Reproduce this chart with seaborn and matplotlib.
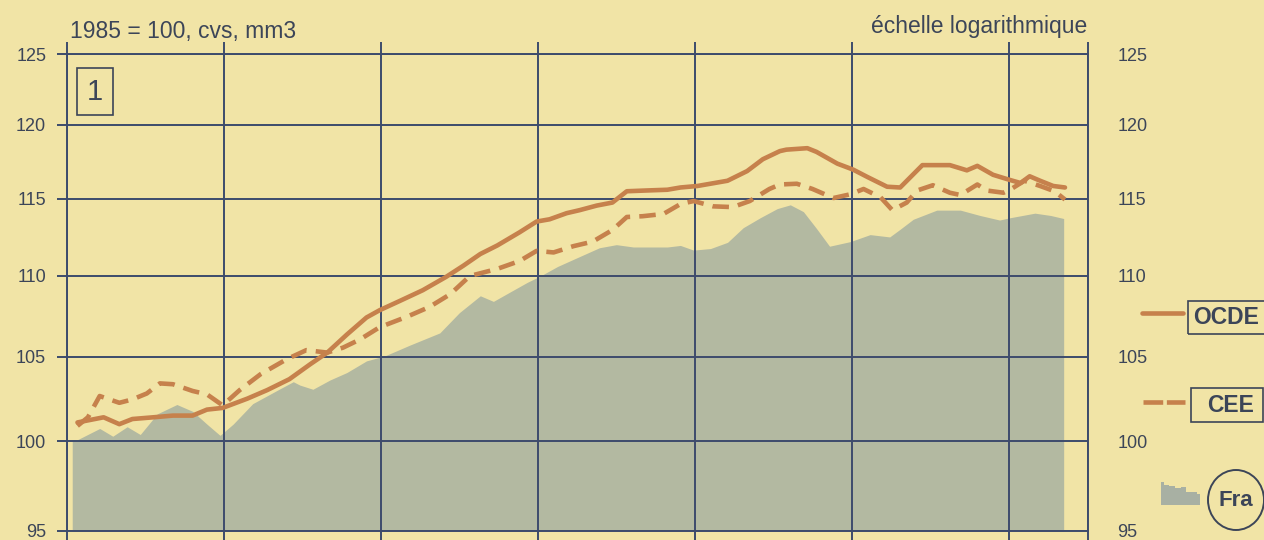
import matplotlib
matplotlib.use("Agg")
import matplotlib.pyplot as plt
from matplotlib.lines import Line2D
from matplotlib.patches import Rectangle, Ellipse
from matplotlib.ticker import FixedLocator, FixedFormatter, NullLocator, NullFormatter
import seaborn as sns

# mois écoulés depuis janvier 1986 (moyennes mobiles sur 3 mois, 1985 = 100)
mois_ocde = [0.8, 2.8, 4.0, 5.0, 6.6, 8.1, 9.6, 10.7, 11.9, 13.8, 15.3, 17.0, 18.6, 19.9,
             21.4, 22.9, 23.9, 25.5, 27.2, 29.0, 30.3, 31.6, 32.9, 34.6, 35.9, 36.9, 38.2,
             39.2, 40.5, 41.7, 42.8, 44.3, 45.9, 46.9, 48.2, 50.5, 52.0, 53.2, 54.5, 55.0,
             56.6, 57.3, 58.9, 60.1, 61.2, 62.7, 63.7, 65.4, 67.5, 68.8, 69.6, 70.8, 72.1,
             72.9, 73.6, 74.4, 75.4, 76.3]
ocde = [101.1, 101.4, 101.0, 101.3, 101.4, 101.5, 101.5, 101.85, 101.95, 102.5, 103.0,
        103.65, 104.55, 105.25, 106.35, 107.4, 107.85, 108.45, 109.1, 109.95, 110.65,
        111.4, 111.95, 112.8, 113.5, 113.65, 114.05, 114.25, 114.55, 114.75, 115.5,
        115.55, 115.6, 115.75, 115.85, 116.2, 116.85, 117.65, 118.2, 118.3, 118.4,
        118.15, 117.35, 116.95, 116.45, 115.8, 115.75, 117.25, 117.25, 116.9, 117.2,
        116.6, 116.25, 116.05, 116.5, 116.2, 115.85, 115.75]

mois_cee = [0.8, 1.6, 2.5, 4.0, 5.0, 6.1, 7.1, 8.1, 9.6, 10.7, 11.9, 13.2, 14.8, 16.8,
            18.3, 19.9, 21.1, 22.4, 23.9, 26.0, 27.7, 29.3, 30.8, 32.9, 34.6, 35.9, 37.2,
            38.7, 40.2, 41.7, 42.8, 44.0, 45.6, 46.9, 47.9, 49.4, 50.9, 52.2, 53.7, 54.5,
            55.8, 57.0, 58.6, 59.9, 60.9, 62.2, 63.1, 64.2, 65.0, 66.2, 67.5, 68.3, 69.6,
            70.3, 71.6, 72.1, 73.2, 74.4, 75.5, 76.3]
cee = [100.9, 101.4, 102.65, 102.25, 102.45, 102.8, 103.4, 103.35, 102.95, 102.75, 102.1,
       103.0, 103.95, 104.85, 105.4, 105.25, 105.55, 106.05, 106.8, 107.45, 108.05, 108.85,
       110.0, 110.45, 110.95, 111.6, 111.5, 111.9, 112.2, 112.95, 113.8, 113.85, 114.0,
       114.65, 114.85, 114.5, 114.45, 114.85, 115.65, 115.95, 116.0, 115.65, 115.05, 115.3,
       115.65, 115.1, 114.25, 114.75, 115.55, 115.9, 115.4, 115.25, 115.95, 115.55, 115.4,
       115.6, 116.2, 115.85, 115.5, 114.95]

mois_fra = [0.4, 0.8, 2.5, 3.5, 4.6, 5.6, 6.9, 8.4, 9.6, 10.7, 11.7, 12.7, 14.2, 16.1,
            17.3, 17.8, 18.8, 20.1, 21.4, 22.9, 24.3, 26.2, 28.5, 30.0, 31.6, 32.6, 33.9,
            35.2, 36.2, 37.5, 38.7, 40.7, 42.0, 43.3, 44.8, 45.9, 46.9, 47.9, 49.2, 50.5,
            51.7, 53.0, 54.3, 55.3, 56.3, 57.3, 58.3, 59.9, 61.4, 62.9, 63.7, 64.7, 66.5,
            68.3, 69.8, 71.3, 72.1, 74.0, 75.2, 76.2]
fra = [100.1, 100.1, 100.75, 100.3, 100.85, 100.4, 101.6, 102.15, 101.75, 101.0, 100.35,
       101.0, 102.2, 103.0, 103.5, 103.3, 103.05, 103.6, 104.05, 104.75, 105.05, 105.7,
       106.45, 107.7, 108.75, 108.4, 109.0, 109.6, 110.0, 110.6, 111.05, 111.8, 112.0,
       111.85, 111.85, 111.85, 111.95, 111.65, 111.75, 112.15, 113.1, 113.75, 114.35,
       114.6, 114.15, 113.05, 111.9, 112.2, 112.65, 112.5, 113.0, 113.65, 114.25, 114.25,
       113.9, 113.6, 113.75, 114.05, 113.9, 113.7]

graduations = [95, 100, 105, 110, 115, 120, 125]
debuts_annees = [0, 12, 24, 36, 48, 60, 72, 78.06]
icone_fra = [22, 19, 18, 16, 17, 12, 12, 11]

FOND = "#f1e4a6"
GRIS = "#b3b9a1"
ORANGE = "#c6814c"
GRILLE = "#3d4b6c"
TEXTE = "#3c4558"
W, H = 1264, 540

sns.set_style("white")
plt.rcParams["font.family"] = ["Liberation Sans", "DejaVu Sans"]

fig = plt.figure(figsize=(W / 100, H / 100), dpi=100, facecolor=FOND)
ax = fig.add_axes([67 / W, 9.5 / H, (1088 - 67) / W, (530.5 - 54) / H])
ax.set_facecolor(FOND)

ax.fill_between(mois_fra, 90, fra, color=GRIS, lw=0, zorder=1)
sns.lineplot(x=mois_ocde, y=ocde, ax=ax, color=ORANGE, lw=3.3, zorder=3)
sns.lineplot(x=mois_cee, y=cee, ax=ax, color=ORANGE, lw=3.3,
             linestyle=(0, (3.6, 2.0)), zorder=3)

ax.set_yscale("log")
ax.set_ylim(95, 125)
ax.set_xlim(0, 78.06)
ax.yaxis.set_major_locator(FixedLocator(graduations))
ax.yaxis.set_major_formatter(FixedFormatter([str(g) for g in graduations]))
ax.yaxis.set_minor_locator(NullLocator())
ax.xaxis.set_major_locator(FixedLocator(debuts_annees))
ax.xaxis.set_major_formatter(NullFormatter())
ax.set_xlabel("")
ax.set_ylabel("")
ax.grid(True, color=GRILLE, lw=1.4)
ax.set_axisbelow("line")
for s in ax.spines.values():
    s.set_visible(True)
    s.set_color(GRILLE)
    s.set_linewidth(1.4)
ax.tick_params(axis="x", top=True, bottom=True, direction="out", length=9,
               width=1.4, color=GRILLE)
ax.tick_params(axis="y", left=True, right=True, direction="out", length=7,
               width=1.4, color=GRILLE, labelsize=13, labelcolor=TEXTE, pad=8)

# graduations de droite
ax2 = ax.twinx()
ax2.set_yscale("log")
ax2.set_ylim(95, 125)
ax2.yaxis.set_major_locator(FixedLocator(graduations))
ax2.yaxis.set_major_formatter(FixedFormatter([str(g) for g in graduations]))
ax2.yaxis.set_minor_locator(NullLocator())
ax2.tick_params(axis="y", length=0, pad=21, labelsize=13, labelcolor=TEXTE)
for s in ax2.spines.values():
    s.set_visible(False)

fig.text(70 / W, 1 - 38 / H, "1985 = 100, cvs, mm3", fontsize=16.5, color=TEXTE, va="baseline")
fig.text(1087 / W, 1 - 33 / H, "échelle logarithmique", fontsize=16.5, color=TEXTE,
         ha="right", va="baseline")

# numéro du graphique
fig.add_artist(Rectangle((77 / W, 1 - 115 / H), 36 / W, 47 / H, transform=fig.transFigure,
                         fill=False, ec=TEXTE, lw=1.2))
fig.text(95 / W, 1 - 92 / H, "1", fontsize=21, color=TEXTE, ha="center", va="center")

# légende
fig.add_artist(Line2D([1142 / W, 1183 / W], [1 - 313 / H, 1 - 313 / H], transform=fig.transFigure,
                      color=ORANGE, lw=3.3))
fig.add_artist(Rectangle((1188 / W, 1 - 334 / H), 90 / W, 33 / H, transform=fig.transFigure,
                         fill=False, ec=TEXTE, lw=1.2))
fig.text(1193 / W, 1 - 318 / H, "OCDE", fontsize=16.5, fontweight="bold", color=TEXTE, va="center")

fig.add_artist(Line2D([1143 / W, 1185 / W], [1 - 402 / H, 1 - 402 / H], transform=fig.transFigure,
                      color=ORANGE, lw=3.3, linestyle=(0, (4.3, 0.8))))
fig.add_artist(Rectangle((1191 / W, 1 - 422 / H), 72 / W, 34 / H, transform=fig.transFigure,
                         fill=False, ec=TEXTE, lw=1.2))
fig.text(1231 / W, 1 - 405 / H, "CEE", fontsize=16.5, fontweight="bold", color=TEXTE,
         ha="center", va="center")

ax_ic = fig.add_axes([1158 / W, 1 - 505 / H, 45 / W, 23 / H])
ax_ic.fill_between(range(len(icone_fra)), 0, icone_fra, color="#a8b0a3", lw=0, step="mid")
ax_ic.set_xlim(-0.5, len(icone_fra) - 0.5)
ax_ic.set_ylim(0, max(icone_fra))
ax_ic.axis("off")

fig.add_artist(Ellipse((1236 / W, 1 - 500 / H), 56 / W, 60 / H, transform=fig.transFigure,
                       fill=False, ec=TEXTE, lw=1.4))
fig.text(1236 / W, 1 - 500 / H, "Fra", fontsize=16, fontweight="bold", color=TEXTE,
         ha="center", va="center")

fig.savefig("out.png", dpi=100, facecolor=FOND)
